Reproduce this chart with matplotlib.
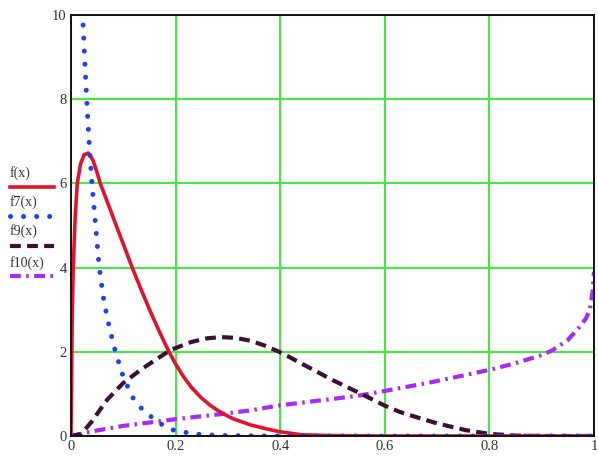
import matplotlib
matplotlib.use("Agg")
import matplotlib.pyplot as plt
from matplotlib.lines import Line2D

# ---- data ----
x_f = [0.0, 0.002, 0.004, 0.008, 0.012, 0.018, 0.025, 0.033, 0.042, 0.05, 0.056,
       0.075, 0.09, 0.1, 0.117, 0.135, 0.152, 0.17, 0.185, 0.2, 0.215, 0.23, 0.248,
       0.265, 0.28, 0.3, 0.312, 0.344, 0.377, 0.4, 0.44, 0.5, 0.6, 1.0]
y_f = [0.0, 2.5, 3.9, 5.2, 6.0, 6.45, 6.68, 6.72, 6.55, 6.25, 6.0,
       5.38, 4.88, 4.56, 4.0, 3.45, 2.95, 2.45, 2.06, 1.71, 1.41, 1.16, 0.92,
       0.74, 0.61, 0.47, 0.4, 0.26, 0.16, 0.1, 0.03, 0.01, 0.0, 0.0]

x_f7 = [0.018, 0.021, 0.023, 0.026, 0.03, 0.035, 0.04, 0.047, 0.054, 0.063, 0.073,
        0.085, 0.1, 0.117, 0.135, 0.156, 0.18, 0.2, 0.25, 0.3, 0.4, 0.6, 0.8, 1.0]
y_f7 = [11.0, 10.1, 9.8, 9.0, 8.0, 6.9, 6.0, 5.0, 4.0, 3.2, 2.6,
        2.0, 1.4, 0.93, 0.65, 0.43, 0.22, 0.12, 0.03, 0.01, 0.0, 0.0, 0.0, 0.0]

x_f9 = [0.0, 0.02, 0.04, 0.069, 0.1, 0.133, 0.152, 0.19, 0.229, 0.26, 0.287, 0.315,
        0.344, 0.37, 0.398, 0.42, 0.453, 0.5, 0.53, 0.56, 0.6, 0.629, 0.665, 0.7,
        0.754, 0.8, 0.85, 0.9, 1.0]
y_f9 = [0.0, 0.05, 0.35, 0.86, 1.26, 1.57, 1.73, 2.04, 2.23, 2.32, 2.35, 2.33,
        2.26, 2.15, 2.0, 1.86, 1.64, 1.33, 1.15, 0.97, 0.72, 0.57, 0.43, 0.3,
        0.14, 0.05, 0.01, 0.0, 0.0]

x_f10 = [0.0, 0.02, 0.04, 0.1, 0.15, 0.2, 0.25, 0.287, 0.344, 0.4, 0.5, 0.556, 0.6,
         0.69, 0.8, 0.85, 0.9, 0.921, 0.95, 0.973, 0.985, 0.992, 0.997, 1.0]
y_f10 = [0.0, 0.05, 0.11, 0.24, 0.32, 0.4, 0.47, 0.52, 0.61, 0.73, 0.88, 0.97, 1.07,
         1.28, 1.57, 1.73, 1.92, 2.04, 2.28, 2.6, 2.8, 3.0, 3.4, 3.9]

x_ticks = [0, 0.2, 0.4, 0.6, 0.8, 1]
x_tick_labels = ["0", "0.2", "0.4", "0.6", "0.8", "1"]
y_ticks = [0, 2, 4, 6, 8, 10]
y_tick_labels = ["0", "2", "4", "6", "8", "10"]
legend_labels = ["f(x)", "f7(x)", "f9(x)", "f10(x)"]

# ---- styles ----
c_red = "#e3122c"
c_blue = "#2040f0"
c_dark = "#3c0f35"
c_mag = "#a52cf0"
c_grid = "#44e844"
serif = ["Liberation Serif", "DejaVu Serif"]

fig = plt.figure(figsize=(5.98, 4.57), dpi=100)
ax = fig.add_axes([71/598, 21/457, 523/598, 421/457])
ax.set_xlim(0, 1)
ax.set_ylim(0, 10)

ax.grid(True, color=c_grid, linewidth=1.5)
ax.set_axisbelow(True)

ax.plot(x_f10, y_f10, color=c_mag, linewidth=3.0,
        linestyle=(0, (2.6, 1.3, 0.6, 1.3)), dash_capstyle="butt",
        solid_joinstyle="round")
ax.plot(x_f9, y_f9, color=c_dark, linewidth=3.0,
        linestyle=(0, (2.6, 1.5)), dash_capstyle="butt")
ax.plot(x_f, y_f, color=c_red, linewidth=2.6, solid_joinstyle="round")
ax.plot(x_f7, y_f7, color=c_blue, linewidth=3.6,
        linestyle=(0, (0.01, 2.6)), dash_capstyle="round")

ax.set_xticks(x_ticks)
ax.set_xticklabels(x_tick_labels)
ax.set_yticks(y_ticks)
ax.set_yticklabels(y_tick_labels)
ax.tick_params(length=0, labelsize=10.5, labelcolor="#333333", pad=3)
for lab in ax.get_xticklabels() + ax.get_yticklabels():
    lab.set_fontfamily(serif)
for s in ax.spines.values():
    s.set_color("#111111")
    s.set_linewidth(1.4)

# ---- legend drawn at the left, labels above the line samples ----
styles = [
    dict(color=c_red, linewidth=2.6),
    dict(color=c_blue, linewidth=3.6, linestyle=(0, (0.01, 2.6)), dash_capstyle="round"),
    dict(color=c_dark, linewidth=3.0, linestyle=(0, (2.6, 1.5))),
    dict(color=c_mag, linewidth=3.0, linestyle=(0, (2.6, 1.3, 0.6, 1.3))),
]
text_y = [173, 202, 231, 263]
line_y = [187, 216, 246, 276]
for lab, st, ty, ly in zip(legend_labels, styles, text_y, line_y):
    fig.text(10/598, 1 - ty/457, lab, fontsize=10, family=serif,
             color="#333333", va="center", ha="left")
    fig.add_artist(Line2D([10/598, 54/598], [1 - ly/457, 1 - ly/457],
                          transform=fig.transFigure, **st))

fig.savefig("out.png", dpi=100)
